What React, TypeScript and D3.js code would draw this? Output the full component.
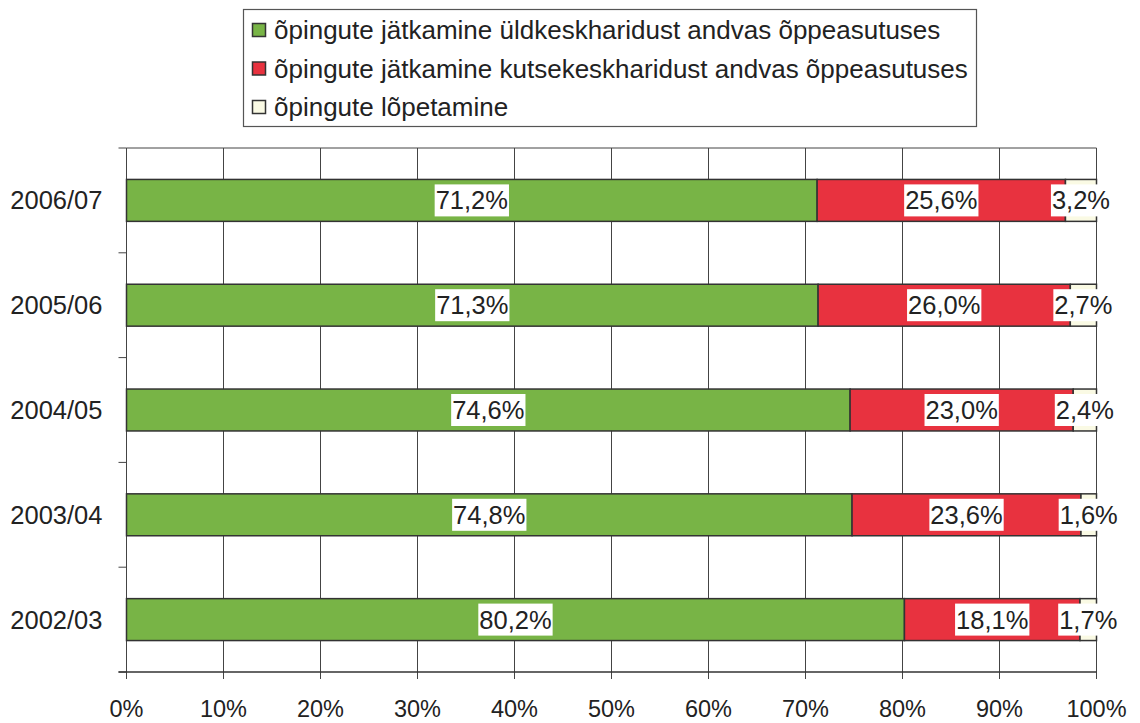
import React, { useEffect, useRef } from "react";
import * as d3 from "d3";

const categories = ["2006/07", "2005/06", "2004/05", "2003/04", "2002/03"];
const general = [71.2, 71.3, 74.6, 74.8, 80.2];
const vocational = [25.6, 26.0, 23.0, 23.6, 18.1];
const finished = [3.2, 2.7, 2.4, 1.6, 1.7];
const seriesNames = [
  "õpingute jätkamine üldkeskharidust andvas õppeasutuses",
  "õpingute jätkamine kutsekeskharidust andvas õppeasutuses",
  "õpingute lõpetamine",
];
const xTicks = [0, 10, 20, 30, 40, 50, 60, 70, 80, 90, 100];

const colors = ["#78b446", "#e8323f", "#fafae4"];
const font = "'Liberation Sans', Arial, sans-serif";

const App = () => {
  const ref = useRef<SVGSVGElement>(null);

  useEffect(() => {
    const width = 1140;
    const height = 723;
    const margin = { top: 148, right: 43.5, bottom: 51, left: 126.5 };

    const svg = d3.select(ref.current);
    svg.selectAll("*").remove();

    const x = d3
      .scaleLinear()
      .domain([0, 100])
      .range([margin.left, width - margin.right]);
    const y = d3
      .scaleBand()
      .domain(categories)
      .range([margin.top, height - margin.bottom])
      .paddingInner(0.6)
      .paddingOuter(0.3);

    const table = categories.map((c, i) => ({
      cat: c,
      s0: general[i],
      s1: vocational[i],
      s2: finished[i],
    }));
    const stacked = d3.stack<any>().keys(["s0", "s1", "s2"])(table);

    const plotTop = margin.top;
    const plotBottom = height - margin.bottom;

    // vertical gridlines + ticks below the axis
    svg
      .append("g")
      .selectAll("line")
      .data(xTicks)
      .join("line")
      .attr("x1", (d) => x(d))
      .attr("x2", (d) => x(d))
      .attr("y1", plotTop)
      .attr("y2", plotBottom + 7)
      .attr("stroke", "#444")
      .attr("stroke-width", 1);

    // top frame
    svg
      .append("line")
      .attr("x1", x(0))
      .attr("x2", x(100))
      .attr("y1", plotTop)
      .attr("y2", plotTop)
      .attr("stroke", "#444");

    // category boundary ticks
    const step = y.step();
    svg
      .append("g")
      .selectAll("line")
      .data(d3.range(categories.length + 1))
      .join("line")
      .attr("x1", x(0) - 8)
      .attr("x2", x(0))
      .attr("y1", (i) => plotTop + i * step)
      .attr("y2", (i) => plotTop + i * step)
      .attr("stroke", "#444");

    // bottom axis line
    svg
      .append("line")
      .attr("x1", x(0) - 8)
      .attr("x2", x(100))
      .attr("y1", plotBottom)
      .attr("y2", plotBottom)
      .attr("stroke", "#333")
      .attr("stroke-width", 1.5);

    // bars
    stacked.forEach((layer, k) => {
      svg
        .append("g")
        .selectAll("rect")
        .data(layer)
        .join("rect")
        .attr("x", (d) => x(d[0]))
        .attr("width", (d) => x(d[1]) - x(d[0]))
        .attr("y", (d) => y(d.data.cat)!)
        .attr("height", y.bandwidth())
        .attr("fill", colors[k])
        .attr("stroke", "#333")
        .attr("stroke-width", 1.5);
    });

    // value labels on white boxes
    stacked.forEach((layer) => {
      layer.forEach((d) => {
        const v = d[1] - d[0];
        const cx = x((d[0] + d[1]) / 2);
        const cy = y(d.data.cat)! + y.bandwidth() / 2;
        const g = svg.append("g");
        const rect = g.append("rect").attr("fill", "#fff");
        const t = g
          .append("text")
          .attr("x", cx)
          .attr("y", cy + 9)
          .attr("text-anchor", "middle")
          .attr("font-family", font)
          .attr("font-size", 25.5)
          .attr("fill", "#222")
          .text(v.toFixed(1).replace(".", ",") + "%");
        const bb = (t.node() as SVGTextElement).getBBox();
        rect
          .attr("x", bb.x - 1)
          .attr("y", cy - 16)
          .attr("width", bb.width + 2)
          .attr("height", 32);
      });
    });

    // category labels
    svg
      .append("g")
      .selectAll("text")
      .data(categories)
      .join("text")
      .attr("x", x(0) - 24)
      .attr("y", (d) => y(d)! + y.bandwidth() / 2 + 9)
      .attr("text-anchor", "end")
      .attr("font-family", font)
      .attr("font-size", 25.5)
      .attr("fill", "#222")
      .text((d) => d);

    // x tick labels
    svg
      .append("g")
      .selectAll("text")
      .data(xTicks)
      .join("text")
      .attr("x", (d) => x(d))
      .attr("y", 717)
      .attr("text-anchor", "middle")
      .attr("font-family", font)
      .attr("font-size", 23.5)
      .attr("fill", "#222")
      .text((d) => d + "%");

    // legend
    const legend = svg.append("g");
    legend
      .append("rect")
      .attr("x", 243.5)
      .attr("y", 9.5)
      .attr("width", 733)
      .attr("height", 117)
      .attr("fill", "#fff")
      .attr("stroke", "#555")
      .attr("stroke-width", 1.2);
    seriesNames.forEach((name, i) => {
      const cy = 30 + i * 38.5;
      legend
        .append("rect")
        .attr("x", 252.5)
        .attr("y", cy - 6.5)
        .attr("width", 13)
        .attr("height", 13)
        .attr("fill", colors[i])
        .attr("stroke", "#333")
        .attr("stroke-width", 1.5);
      legend
        .append("text")
        .attr("x", 274)
        .attr("y", cy + 9)
        .attr("font-family", font)
        .attr("font-size", 26)
        .attr("fill", "#222")
        .text(name);
    });
  }, []);

  return (
    <svg
      ref={ref}
      width={1140}
      height={723}
      style={{ position: "absolute", left: 0, top: 0, background: "#fff" }}
    />
  );
};

export default App;
